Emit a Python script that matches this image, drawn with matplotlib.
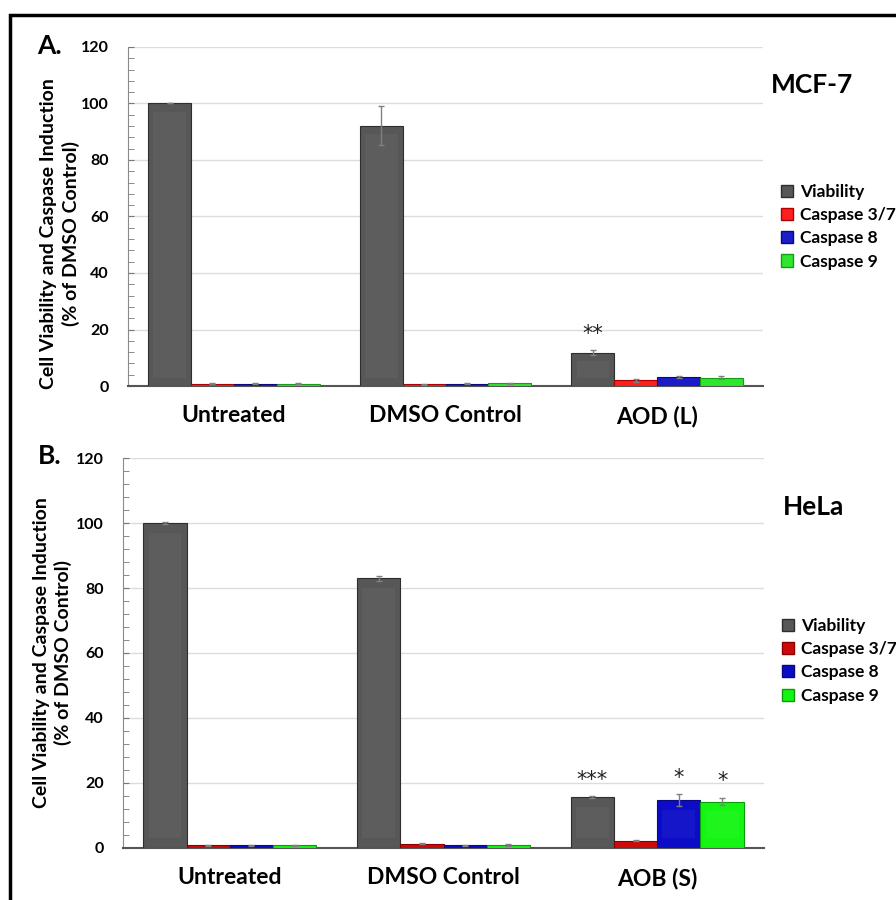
import numpy as np
import matplotlib
matplotlib.use("Agg")
from matplotlib import pyplot as plt
from matplotlib.patches import Rectangle, Patch

plt.rcParams['font.family'] = ['Lato', 'DejaVu Sans']
plt.rcParams['font.weight'] = 'bold'

categories_a = ['Untreated', 'DMSO Control', 'AOD (L)']
categories_b = ['Untreated', 'DMSO Control', 'AOB (S)']
series_names = ['Viability', 'Caspase 3/7', 'Caspase 8', 'Caspase 9']

# panel A (MCF-7)
viab_a = [100.0, 92.2, 11.8]
viab_a_err = [0.0, 7.0, 1.0]
c37_a = [0.8, 0.6, 2.0]
c37_a_err = [0.1, 0.1, 0.5]
c8_a = [0.8, 0.8, 3.2]
c8_a_err = [0.1, 0.2, 0.5]
c9_a = [0.8, 0.9, 3.0]
c9_a_err = [0.1, 0.2, 0.4]
# significance marks, one list per series
stars_a = [['', '', '**'], ['', '', ''], ['', '', ''], ['', '', '']]

# panel B (HeLa)
viab_b = [100.0, 83.0, 15.6]
viab_b_err = [0.2, 0.8, 0.3]
c37_b = [0.8, 1.3, 2.3]
c37_b_err = [0.1, 0.2, 0.2]
c8_b = [0.8, 0.8, 14.8]
c8_b_err = [0.1, 0.1, 1.8]
c9_b = [0.8, 0.9, 14.3]
c9_b_err = [0.1, 0.2, 1.1]
stars_b = [['', '', '***'], ['', '', ''], ['', '', '*'], ['', '', '*']]

colors_a = ['#575757', '#ff1f1f', '#1c1cc8', '#2ee62e']
colors_b = ['#575757', '#cc0a0a', '#0c0cc8', '#14f514']
edges_a = ['#2e2e2e', '#b00000', '#0a0a80', '#12a012']
edges_b = ['#2e2e2e', '#8a0000', '#0a0a80', '#0a9a0a']


def draw_panel(ax, cats, vals, errs, stars, colors, edges, cell, title_y, leg_y, lab_xy):
    x = np.arange(len(cats))
    w = 0.2025
    for i, (v, e) in enumerate(zip(vals, errs)):
        pos = x + (i - 1.5) * w
        bars = ax.bar(pos, v, w, color=colors[i], edgecolor=edges[i],
                      linewidth=0.8, zorder=3, label=series_names[i])
        # soft bevel look
        for b in bars:
            h = b.get_height()
            inset = min(h * 0.5, 3.0)
            ax.add_patch(Rectangle((b.get_x() + w * 0.12, inset), w * 0.76, max(h - 2 * inset, 0),
                                   facecolor='white', alpha=0.04, linewidth=0, zorder=4))
        ax.errorbar(pos, v, yerr=e, fmt='none', ecolor='#808080',
                    elinewidth=1.0, capsize=2, capthick=1.0, zorder=5)
        for j in range(len(cats)):
            s = stars[i][j]
            if s:
                ax.text(pos[j], v[j] + e[j] + 2.0, s, ha='center', va='bottom',
                        fontsize=15, color='#222222', family='DejaVu Sans', fontweight='normal')
    ax.set_xlim(-0.5, len(cats) - 0.5)
    ax.set_ylim(0, 120)
    ax.set_yticks(np.arange(0, 121, 20))
    ax.set_yticks(np.arange(0, 121, 4), minor=True)
    ax.set_xticks(x)
    ax.set_xticklabels(cats, fontsize=16.5, fontweight='bold')
    ax.tick_params(axis='x', length=0, pad=14)
    ax.tick_params(axis='y', which='both', direction='in', length=4, color='#777777',
                   labelsize=11.5, pad=14)
    ax.grid(axis='y', color='#dcdcdc', linewidth=1.0, zorder=0)
    ax.set_axisbelow(True)
    for s in ['top', 'right']:
        ax.spines[s].set_visible(False)
    ax.spines['left'].set_color('#8a8a8a')
    ax.spines['bottom'].set_color('#555555')
    ax.spines['bottom'].set_linewidth(1.5)
    ax.set_ylabel('Cell Viability and Caspase Induction\n(% of DMSO Control)',
                  fontsize=14, fontweight='bold', linespacing=1.3)
    ax.yaxis.set_label_coords(*lab_xy)
    ax.text(1.077, title_y, cell, transform=ax.transAxes, fontsize=19, fontweight='bold',
            ha='center', va='center')
    handles = [Patch(facecolor=colors[i], edgecolor=edges[i]) for i in range(4)]
    ax.legend(handles, series_names, loc='center left', bbox_to_anchor=(1.015, leg_y),
              frameon=False, fontsize=12.5, handlelength=0.7, handleheight=0.7,
              handletextpad=0.4, labelspacing=0.42, borderpad=0)


fig = plt.figure(figsize=(8.96, 9.0), dpi=100)
ax_a = fig.add_axes([0.1429, 0.5711, 0.7087, 0.3767])
ax_b = fig.add_axes([0.1373, 0.0578, 0.7154, 0.4333])

draw_panel(ax_a, categories_a, [viab_a, c37_a, c8_a, c9_a],
           [viab_a_err, c37_a_err, c8_a_err, c9_a_err], stars_a,
           colors_a, edges_a, 'MCF-7', 0.888, 0.47, (-0.076, 0.45))
draw_panel(ax_b, categories_b, [viab_b, c37_b, c8_b, c9_b],
           [viab_b_err, c37_b_err, c8_b_err, c9_b_err], stars_b,
           colors_b, edges_b, 'HeLa', 0.874, 0.48, (-0.079, 0.5))

fig.text(49 / 896, 1 - 46 / 900, 'A.', fontsize=19, fontweight='bold', ha='center', va='center')
fig.text(50 / 896, 1 - 456 / 900, 'B.', fontsize=19, fontweight='bold', ha='center', va='center')

# outer frame, runs off the right and bottom edges
fig.add_artist(Rectangle((10 / 896, -0.01), 1.0, 1 - 15 / 900 + 0.01,
                         transform=fig.transFigure, fill=False, edgecolor='black',
                         linewidth=2.5))

fig.savefig('out.png', dpi=100)
